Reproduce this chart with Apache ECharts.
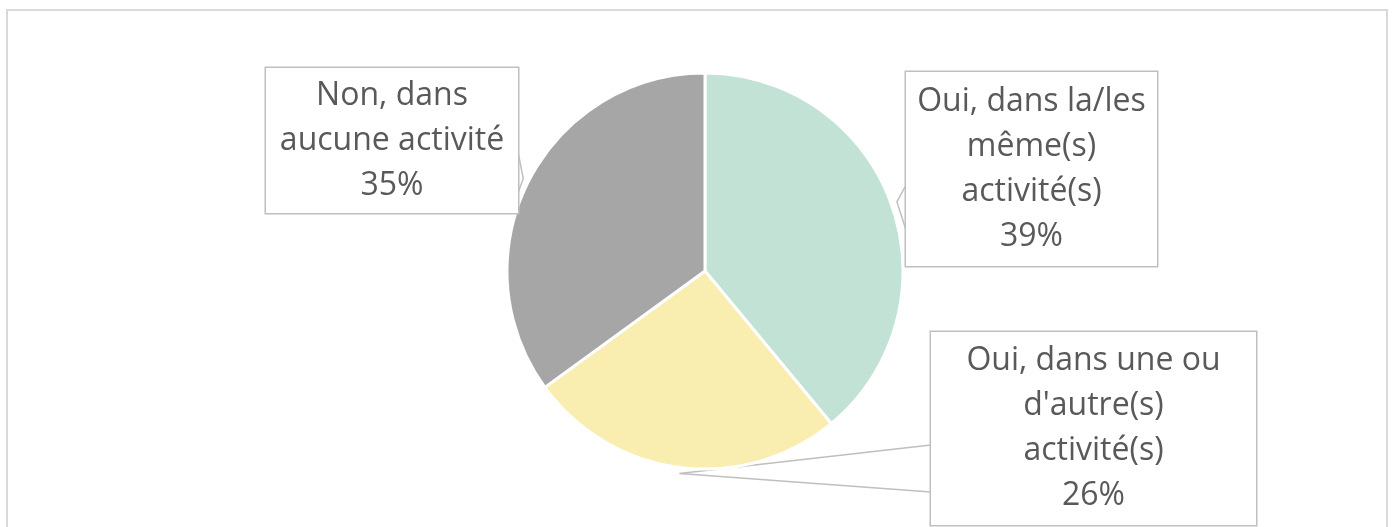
<!DOCTYPE html>
<html>
<head>
<meta charset="utf-8">
<script src="https://cdn.jsdelivr.net/npm/echarts@6/dist/echarts.min.js"></script>
<style>
html,body{margin:0;padding:0;background:#fff;}
#chart{width:1394px;height:527px;}
</style>
</head>
<body>
<div id="chart"></div>
<script>
// Data
const categories = [
  "Oui, dans la/les\nmême(s)\nactivité(s)",
  "Oui, dans une ou\nd'autre(s)\nactivité(s)",
  "Non, dans\naucune activité"
];
const values = [39, 26, 35];
const colors = ["#C2E2D6", "#F9EDB0", "#A6A6A6"];

// Label box layout: centre x/y, box width, top/bottom padding,
// side of the box carrying the callout pointer and the pointer base (y range)
const labelBoxes = [
  { cx: 1031.5, cy: 169, w: 251, padT: 9, padB: 5, side: 'left', baseA: 185, baseB: 230 },
  { cx: 1093.5, cy: 428.5, w: 325, padT: 9, padB: 4, side: 'left', baseA: 445, baseB: 492 },
  { cx: 392, cy: 140.5, w: 252, padT: 7, padB: 3, side: 'right', baseA: 152, baseB: 193 }
];
const tipOffset = 6;

const chart = echarts.init(document.getElementById('chart'));
const option = {
  animation: false,
  backgroundColor: '#fff',
  graphic: [{
    type: 'rect',
    shape: { x: 7, y: 10, width: 1380, height: 560 },
    style: { fill: 'none', stroke: '#D9D9D9', lineWidth: 2 },
    silent: true
  }],
  series: [{
    type: 'pie',
    center: [705, 271],
    radius: 198,
    startAngle: 90,
    clockwise: true,
    avoidLabelOverlap: false,
    itemStyle: { borderColor: '#fff', borderWidth: 3 },
    emphasis: { disabled: true },
    label: {
      show: true,
      position: 'outside',
      formatter: '{b}\n{d}%',
      fontFamily: 'Open Sans',
      fontSize: 32,
      lineHeight: 45,
      color: '#595959',
      align: 'center',
      backgroundColor: '#fff',
      borderColor: '#BFBFBF',
      borderWidth: 1.5
    },
    labelLine: {
      show: true,
      length: 10,
      length2: 10,
      lineStyle: { color: '#BFBFBF', width: 1.5 }
    },
    labelLayout: function (params) {
      const b = labelBoxes[params.dataIndex];
      const pts = params.labelLinePoints;
      const edgeX = b.side === 'left' ? b.cx - b.w / 2 : b.cx + b.w / 2;
      const res = { x: b.cx, y: b.cy, align: 'center', verticalAlign: 'middle' };
      if (pts) {
        const dx = pts[1][0] - pts[0][0], dy = pts[1][1] - pts[0][1];
        const len = Math.sqrt(dx * dx + dy * dy) || 1;
        const tip = [pts[0][0] + dx / len * tipOffset, pts[0][1] + dy / len * tipOffset];
        res.labelLinePoints = [[edgeX, b.baseA], tip, [edgeX, b.baseB]];
      }
      return res;
    },
    data: categories.map(function (c, i) {
      return {
        name: c,
        value: values[i],
        itemStyle: { color: colors[i] },
        label: { width: labelBoxes[i].w, padding: [labelBoxes[i].padT, 0, labelBoxes[i].padB, 0] }
      };
    })
  }]
};
chart.setOption(option);
</script>
</body>
</html>
